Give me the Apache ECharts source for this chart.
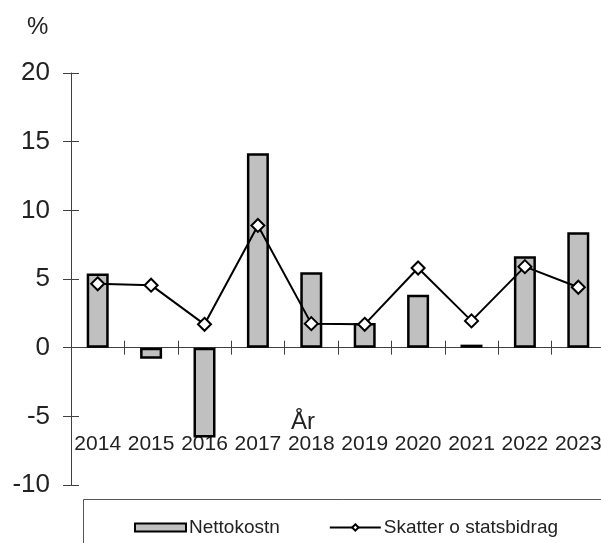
<!DOCTYPE html>
<html>
<head>
<meta charset="utf-8">
<script src="https://cdn.jsdelivr.net/npm/echarts@6/dist/echarts.min.js"></script>
<style>html,body{margin:0;padding:0;background:#fff;}#c{width:601px;height:543px;}</style>
</head>
<body>
<div id="c"></div>
<script>
var years = ['2014','2015','2016','2017','2018','2019','2020','2021','2022','2023'];
var nettokostn = [5.4, -0.8, -6.55, 14.15, 5.5, 1.8, 3.85, 0.22, 6.65, 8.4];
var skatter = [4.65, 4.55, 1.7, 8.9, 1.75, 1.7, 5.8, 1.95, 5.9, 4.4];
var yTicks = { min: -10, max: 20, interval: 5 };

var chart = echarts.init(document.getElementById('c'), null, {renderer: 'canvas'});
var font = 'Liberation Sans, Arial, sans-serif';
chart.setOption({
  animation: false,
  backgroundColor: '#fff',
  grid: { left: 71, right: -4, top: 73, bottom: 58, containLabel: false, outerBoundsMode: 'none' },
  xAxis: [{
    type: 'category', data: years, position: 'bottom',
    axisLine: { onZero: true, lineStyle: { color: '#404040', width: 1 } },
    axisTick: { show: true, length: 7, inside: false, alignWithLabel: false, interval: 0, lineStyle: { color: '#404040' } },
    axisLabel: { show: false },
    splitLine: { show: false }
  }, {
    type: 'category', data: years, position: 'top',
    axisLine: { onZero: true, lineStyle: { color: '#404040', width: 1 } },
    axisTick: { show: true, length: 7, interval: 0, lineStyle: { color: '#404040' } },
    axisLabel: { show: false },
    splitLine: { show: false }
  }, {
    type: 'category', data: years, position: 'bottom', offset: -51,
    axisLine: { show: false, onZero: false },
    axisTick: { show: false },
    axisLabel: { margin: 0, interval: 0, hideOverlap: false, fontFamily: font, fontSize: 21, color: '#222' },
    splitLine: { show: false }
  }],
  yAxis: [{
    type: 'value', min: yTicks.min, max: yTicks.max, interval: yTicks.interval,
    axisLine: { show: true, onZero: false, lineStyle: { color: '#404040', width: 1 } },
    axisTick: { show: true, length: 8, lineStyle: { color: '#404040' } },
    axisLabel: { margin: 21, fontFamily: font, fontSize: 26, color: '#222' },
    splitLine: { show: false }
  }, {
    type: 'value', min: yTicks.min, max: yTicks.max, interval: yTicks.interval, position: 'left',
    axisLine: { show: false, onZero: false },
    axisTick: { show: true, inside: true, length: 8, lineStyle: { color: '#404040' } },
    axisLabel: { show: false },
    splitLine: { show: false }
  }],
  legend: {
    left: 129, top: 513, itemGap: 49, itemWidth: 51, itemHeight: 8,
    textStyle: { fontFamily: font, fontSize: 19, color: '#222', padding: [0, 0, 0, -2] },
    data: [
      { name: 'Nettokostn', icon: 'rect' },
      { name: 'Skatter o statsbidrag' }
    ]
  },
  graphic: [
    { type: 'rect', left: 81, top: 497, shape: { width: 600, height: 100 }, style: { fill: 'none', stroke: '#555', lineWidth: 1 }, z: 0 },
    { type: 'text', left: 27, top: 15, style: { text: '%', font: '24px ' + font, fill: '#222' } },
    { type: 'text', left: 291, top: 410, style: { text: 'År', font: '24px ' + font, fill: '#222' } }
  ],
  series: [{
    name: 'Nettokostn', type: 'bar', data: nettokostn, barWidth: 22,
    itemStyle: { color: '#c0c0c0', borderColor: '#000', borderWidth: 2.5 },
    z: 2
  }, {
    name: 'Skatter o statsbidrag', type: 'line', data: skatter,
    lineStyle: { color: '#000', width: 2 },
    itemStyle: { color: '#fff', borderColor: '#000', borderWidth: 2 },
    symbol: 'diamond', symbolSize: 13, showSymbol: true,
    z: 3
  }]
});
</script>
</body>
</html>
